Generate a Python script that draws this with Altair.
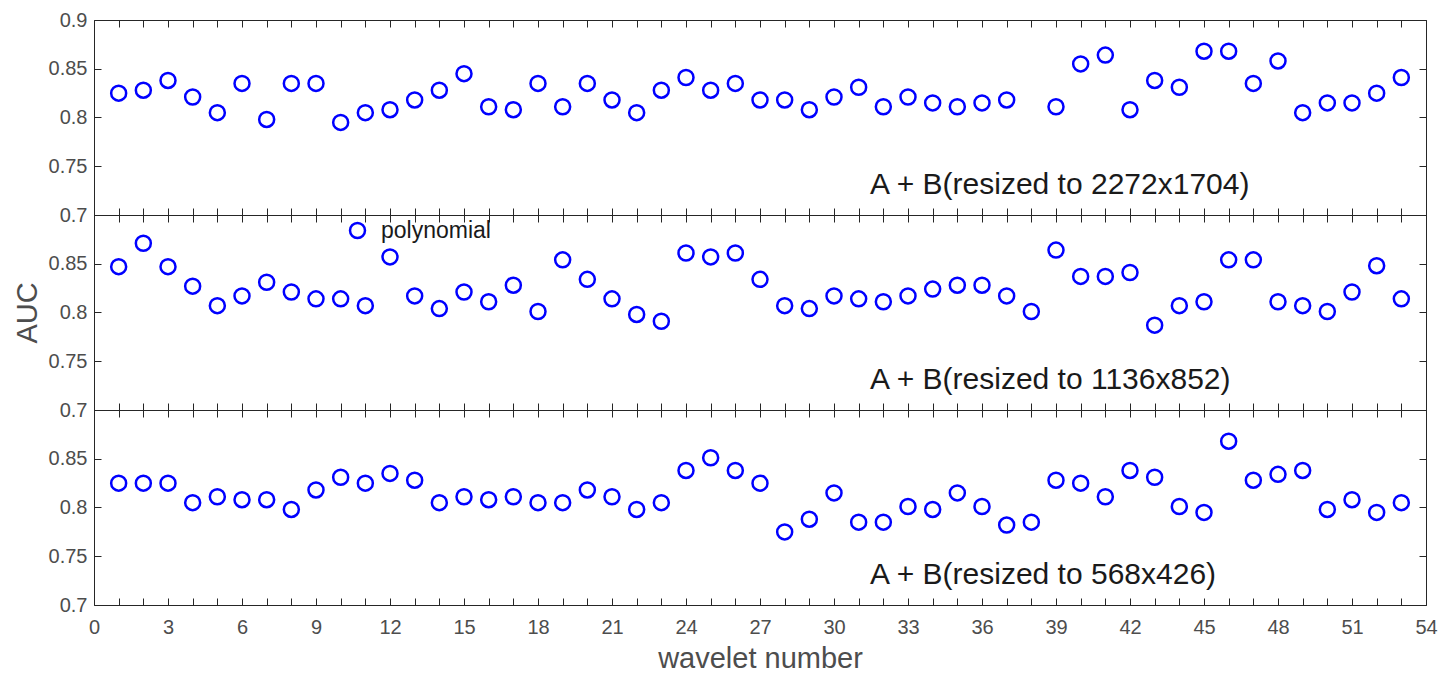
import altair as alt
import pandas as pd

wavelet = list(range(1, 54))

auc_2272 = [0.825, 0.828, 0.838, 0.821, 0.805, 0.835, 0.798, 0.835, 0.835, 0.795,
            0.805, 0.808, 0.818, 0.828, 0.845, 0.811, 0.808, 0.835, 0.811, 0.835,
            0.818, 0.805, 0.828, 0.841, 0.828, 0.835, 0.818, 0.818, 0.808, 0.821,
            0.831, 0.811, 0.821, 0.815, 0.811, 0.815, 0.818, None, 0.811, 0.855,
            0.864, 0.808, 0.838, 0.831, 0.868, 0.868, 0.835, 0.858, 0.805, 0.815,
            0.815, 0.825, 0.841]

auc_1136 = [0.847, 0.871, 0.847, 0.827, 0.807, 0.817, 0.831, 0.821, 0.814, 0.814,
            0.807, 0.857, 0.817, 0.804, 0.821, 0.811, 0.828, 0.801, 0.854, 0.834,
            0.814, 0.798, 0.791, 0.861, 0.857, 0.861, 0.834, 0.807, 0.804, 0.817,
            0.814, 0.811, 0.817, 0.824, 0.828, 0.828, 0.817, 0.801, 0.864, 0.837,
            0.837, 0.841, 0.787, 0.807, 0.811, 0.854, 0.854, 0.811, 0.807, 0.801,
            0.821, 0.848, 0.814]

auc_568 = [0.825, 0.825, 0.825, 0.805, 0.811, 0.808, 0.808, 0.798, 0.818, 0.831,
           0.825, 0.835, 0.828, 0.805, 0.811, 0.808, 0.811, 0.805, 0.805, 0.818,
           0.811, 0.798, 0.805, 0.838, 0.851, 0.838, 0.825, 0.775, 0.788, 0.815,
           0.785, 0.785, 0.801, 0.798, 0.815, 0.801, 0.782, 0.785, 0.828, 0.825,
           0.811, 0.838, 0.831, 0.801, 0.795, 0.868, 0.828, 0.834, 0.838, 0.798,
           0.808, 0.795, 0.805]

panel_labels = ["A + B(resized to 2272x1704)",
                "A + B(resized to 1136x852)",
                "A + B(resized to 568x426)"]
series_name = "polynomial"
x_ticks = list(range(0, 55))
y_ticks_top = [0.7, 0.75, 0.8, 0.85, 0.9]
y_ticks_other = [0.7, 0.75, 0.8, 0.85]
x_domain = [0, 54]
y_domain = [0.7, 0.9]

BLUE = "#0000ff"
FONT = "Liberation Sans"
W, H = 1332, 195
TICK = 7


def panel(values, label, first, last, with_legend):
    df = pd.DataFrame({"wavelet": wavelet, "auc": values})
    df["series"] = series_name
    df = df.dropna()
    xs = alt.Scale(domain=x_domain, nice=False, zero=False)
    ys = alt.Scale(domain=y_domain, nice=False, zero=False)

    xb_kwargs = dict(orient="bottom", values=x_ticks, offset=-TICK, tickSize=TICK,
                     domain=False, grid=False, labels=last)
    if last:
        xb_kwargs.update(labelExpr="datum.value % 3 === 0 ? datum.label : ''",
                         labelOverlap=False, labelFlush=False, labelPadding=12,
                         titlePadding=7, labelFontSize=20, titleFontSize=29)
    x_title = "wavelet number" if last else ""
    y_title = "AUC" if with_legend else ""
    yl = alt.Axis(orient="left", values=(y_ticks_top if first else y_ticks_other),
                  offset=-TICK, tickSize=TICK, domain=False, grid=False,
                  format=".2~f", labelPadding=7, titlePadding=6,
                  labelFontSize=20, titleFontSize=29)

    enc = dict(
        x=alt.X("wavelet:Q", scale=xs, axis=alt.Axis(**xb_kwargs), title=x_title),
        y=alt.Y("auc:Q", scale=ys, axis=yl, title=y_title),
    )
    if with_legend:
        enc["color"] = alt.Color(
            "series:N",
            scale=alt.Scale(range=[BLUE]),
            legend=alt.Legend(orient="none", legendX=252, legendY=4, title=None,
                              padding=0, symbolType="circle", symbolSize=225,
                              symbolStrokeWidth=2.5, symbolFillColor="transparent",
                              symbolStrokeColor=BLUE, labelFontSize=23,
                              labelFont=FONT, labelColor="#1a1a1a",
                              labelOffset=12),
        )
        pts = alt.Chart(df).mark_point(shape="circle", filled=False, size=225,
                                       strokeWidth=2.5, opacity=1).encode(**enc)
    else:
        pts = alt.Chart(df).mark_point(shape="circle", filled=False, size=225,
                                       strokeWidth=2.5, opacity=1,
                                       color=BLUE).encode(**enc)

    ghost = alt.Chart(df).mark_point(opacity=0).encode(
        x=alt.X("wavelet:Q", scale=xs, title="",
                axis=alt.Axis(orient="top", values=x_ticks, offset=-TICK,
                              tickSize=TICK, domain=False, grid=False, labels=False)),
        y=alt.Y("auc:Q", scale=ys, title="",
                axis=alt.Axis(orient="right", values=y_ticks_top, offset=-TICK,
                              tickSize=TICK, domain=False, grid=False, labels=False)),
    )

    txt = alt.Chart(pd.DataFrame({"t": [label]})).mark_text(
        align="left", baseline="alphabetic", fontSize=30, font=FONT, color="#1a1a1a"
    ).encode(
        x=alt.XDatum(31.46, scale=xs, axis=None),
        y=alt.YDatum(0.722, scale=ys, axis=None),
        text="t:N",
    )

    return alt.layer(pts, ghost, txt).resolve_axis(x="independent", y="independent") \
        .properties(width=W, height=H)


top = panel(auc_2272, panel_labels[0], True, False, False)
mid = panel(auc_1136, panel_labels[1], False, False, True)
bot = panel(auc_568, panel_labels[2], False, True, False)

chart = alt.vconcat(top, mid, bot, spacing=0, bounds="flush").resolve_legend(
    color="independent"
).properties(
    padding={"left": 4, "top": 1, "right": 5, "bottom": 0}
).configure_view(
    stroke="#262626", strokeWidth=1
).configure_axis(
    labelFont=FONT, titleFont=FONT, labelColor="#4d4d4d", titleColor="#4d4d4d",
    tickColor="#262626", tickWidth=1, titleFontWeight="normal"
)

chart.save("out.html", embed_options={"renderer": "svg", "actions": False})
